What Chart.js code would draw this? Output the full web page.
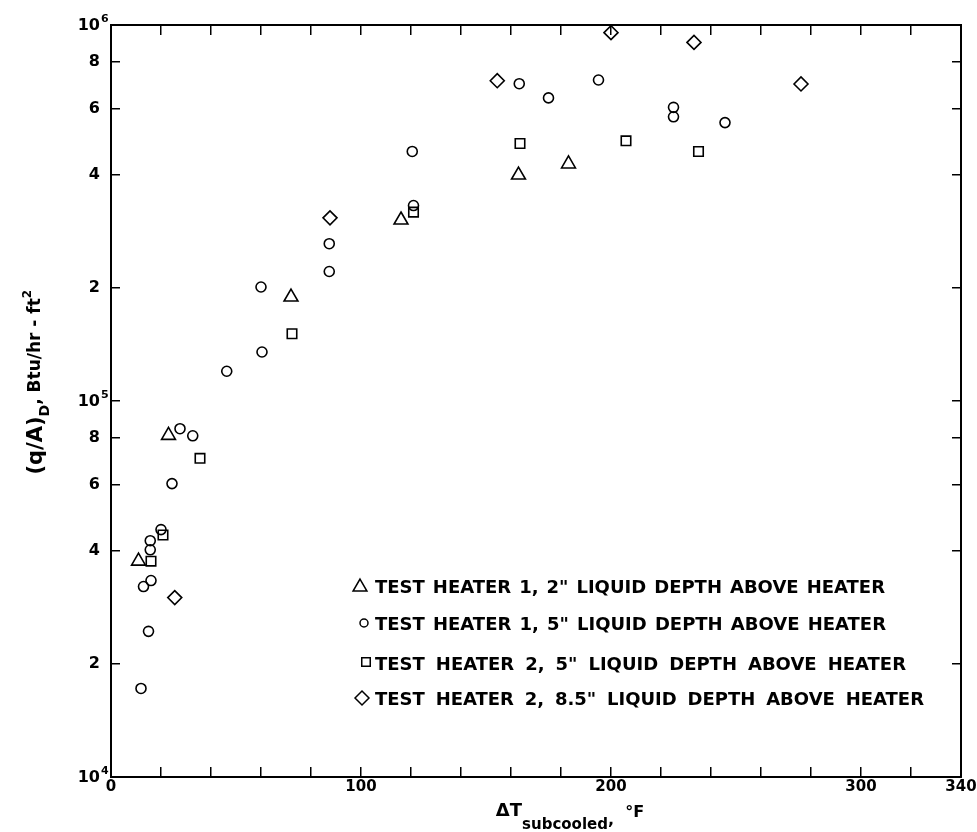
<!DOCTYPE html>
<html>
<head>
<meta charset="utf-8">
<title>Subcooled boiling heat flux</title>
<script src="https://cdn.jsdelivr.net/npm/chart.js@4.4.1/dist/chart.umd.min.js"></script>
<style>
  html, body { margin: 0; padding: 0; background: #fff; }
  #wrap { width: 977px; height: 832px; position: relative; }
</style>
</head>
<body>
<div id="wrap"><canvas id="myChart"></canvas></div>
<script>
// values: x = subcooling (F), y = heat flux (Btu/hr-ft2)
const tempHeater1Depth2 = [11, 23, 72, 116, 163, 183];
const fluxHeater1Depth2 = [37500, 81000, 189000, 303000, 399000, 427000];

const tempHeater1Depth5 = [12, 15, 13, 16, 15.7, 15.7, 20, 24.4, 27.6, 32.7, 46.3, 60, 60.4, 87.3, 87.3, 121, 120.5, 163.3, 175, 195, 225, 225, 245.6];
const fluxHeater1Depth5 = [17200, 24400, 32100, 33300, 40200, 42500, 45500, 60300, 84400, 80800, 120000, 201000, 135000, 221000, 262000, 331000, 461000, 698000, 640000, 714000, 604000, 570000, 550000];

const tempHeater2Depth5 = [16, 20.8, 35.6, 72.4, 121, 163.6, 206, 235];
const fluxHeater2Depth5 = [37500, 44000, 70400, 151000, 318000, 484000, 492000, 461000];

const tempHeater2Depth85 = [25.5, 87.6, 154.5, 200, 233.2, 276];
const fluxHeater2Depth85 = [30000, 307000, 711000, 954000, 899000, 697000];

const seriesLabels = [
    'TEST HEATER 1, 2" LIQUID DEPTH ABOVE HEATER',
    'TEST HEATER 1, 5" LIQUID DEPTH ABOVE HEATER',
    'TEST HEATER 2, 5" LIQUID DEPTH ABOVE HEATER',
    'TEST HEATER 2, 8.5" LIQUID DEPTH ABOVE HEATER'
];
const xTickLabels = [0, 100, 200, 300, 340];
const yTickValues = [1e4, 2e4, 4e4, 6e4, 8e4, 1e5, 2e5, 4e5, 6e5, 8e5, 1e6];

const FONT = '"DejaVu Sans", sans-serif';

function toPoints(xs, ys) {
    return xs.map((x, i) => ({ x: x, y: ys[i] }));
}

function isPowerOfTen(value) {
    const exp = Math.round(Math.log10(value));
    return Math.abs(value - Math.pow(10, exp)) < 1;
}

// powers of ten are drawn by the plugin (they need a real superscript)
function yTickLabel(value) {
    if (isPowerOfTen(value)) return "";
    return String(Math.round(value / Math.pow(10, Math.floor(Math.log10(value)))));
}

function setYTicks(scale) {
    scale.ticks = yTickValues.map(v => ({ value: v }));
}

function noEdgePadding(scale) {
    scale.paddingLeft = 0;
    scale.paddingRight = 0;
    scale.paddingTop = 0;
    scale.paddingBottom = 0;
}

function textWidth(ctx, runs) {
    let w = 0;
    runs.forEach(r => {
        ctx.font = `bold ${r.size}px ${FONT}`;
        w += ctx.measureText(r.text).width;
    });
    return w;
}

function drawRuns(ctx, runs, x, y) {
    let cx = x;
    runs.forEach(r => {
        ctx.font = `bold ${r.size}px ${FONT}`;
        ctx.fillText(r.text, cx, y + r.dy);
        cx += ctx.measureText(r.text).width;
    });
}

const xTitleRuns = [
    { text: "\u0394T", size: 18, dy: 0 },
    { text: "subcooled", size: 15, dy: 13 },
    { text: ",", size: 16, dy: 9 },
    { text: "  \u00B0F", size: 16, dy: 1 }
];
const yTitleRuns = [
    { text: "(q/A)", size: 21, dy: 0 },
    { text: "D", size: 14, dy: 7 },
    { text: ", Btu/hr - ft", size: 17, dy: -2 },
    { text: "2", size: 12, dy: -11 }
];

// legend rows: marker style and size, row position, right end of the text
const legendRows = [
    { style: "triangle", radius: 8, mx: 360, my: 587, base: 593, end: 885 },
    { style: "circle", radius: 4, mx: 364, my: 623, base: 630, end: 886 },
    { style: "rect", radius: 6, mx: 366, my: 662, base: 670, end: 906 },
    { style: "rectRot", radius: 7, mx: 362, my: 698, base: 705, end: 924 }
];

const decorPlugin = {
    id: "decor",
    afterDraw(chart) {
        const ctx = chart.ctx;
        const area = chart.chartArea;
        const yScale = chart.scales.y;
        ctx.save();
        ctx.fillStyle = "#000";
        ctx.textAlign = "left";

        // 10^n tick labels on the left axis
        ctx.textBaseline = "middle";
        yTickValues.filter(isPowerOfTen).forEach(v => {
            const py = yScale.getPixelForValue(v);
            ctx.font = `bold 16px ${FONT}`;
            const w = ctx.measureText("10").width;
            ctx.fillText("10", 100 - w, py + 1);
            ctx.font = `bold 11px ${FONT}`;
            ctx.fillText(String(Math.round(Math.log10(v))), 101, py - 6);
        });

        ctx.textBaseline = "alphabetic";
        // x axis title
        const xw = textWidth(ctx, xTitleRuns);
        drawRuns(ctx, xTitleRuns, area.left + 0.54 * (area.right - area.left) - xw / 2, 816);

        // y axis title, rotated
        const yw = textWidth(ctx, yTitleRuns);
        ctx.save();
        ctx.translate(42, area.top + 0.475 * (area.bottom - area.top));
        ctx.rotate(-Math.PI / 2);
        drawRuns(ctx, yTitleRuns, -yw / 2, 0);
        ctx.restore();

        // legend
        legendRows.forEach((row, i) => {
            ctx.strokeStyle = "#000";
            ctx.fillStyle = "#fff";
            ctx.lineWidth = 1.5;
            Chart.helpers.drawPoint(ctx, { pointStyle: row.style, radius: row.radius, rotation: 0, borderWidth: 1.5 }, row.mx, row.my);
            ctx.fillStyle = "#000";
            ctx.font = `bold 18px ${FONT}`;
            const label = seriesLabels[i];
            const natural = ctx.measureText(label).width;
            const gaps = label.split(" ").length - 1;
            const start = 375;
            ctx.wordSpacing = Math.max(0, (row.end - start - natural) / gaps) + "px";
            ctx.fillText(label, start, row.base);
            ctx.wordSpacing = "0px";
        });
        ctx.restore();
    }
};

function dataset(label, xs, ys, style, radius) {
    return {
        label: label,
        data: toPoints(xs, ys),
        pointStyle: style,
        pointRadius: radius,
        pointHoverRadius: radius,
        pointBorderWidth: 1.6,
        borderColor: "#000",
        backgroundColor: "rgba(255,255,255,0)",
        showLine: false
    };
}

const axisGrid = { drawOnChartArea: false, color: "#000", lineWidth: 1.5, tickLength: -10 };
const axisBorder = { display: true, color: "#000", width: 2 };

new Chart("myChart", {
    type: "scatter",
    data: {
        datasets: [
            dataset(seriesLabels[0], tempHeater1Depth2, fluxHeater1Depth2, "triangle", 8),
            dataset(seriesLabels[1], tempHeater1Depth5, fluxHeater1Depth5, "circle", 5),
            dataset(seriesLabels[2], tempHeater2Depth5, fluxHeater2Depth5, "rect", 6.7),
            dataset(seriesLabels[3], tempHeater2Depth85, fluxHeater2Depth85, "rectRot", 7)
        ]
    },
    options: {
        responsive: true,
        maintainAspectRatio: false,
        animation: false,
        layout: { padding: 0 },
        plugins: {
            legend: { display: false },
            tooltip: { enabled: false }
        },
        scales: {
            x: {
                type: "linear",
                position: "bottom",
                min: 0,
                max: 340,
                grid: axisGrid,
                border: axisBorder,
                ticks: {
                    stepSize: 20,
                    autoSkip: false,
                    maxRotation: 0,
                    padding: 11,
                    color: "#000",
                    font: { family: FONT, size: 15, weight: "bold" },
                    callback: v => xTickLabels.includes(v) ? String(v) : ""
                },
                afterFit: s => { s.height = 55; noEdgePadding(s); }
            },
            x2: {
                type: "linear",
                position: "top",
                min: 0,
                max: 340,
                grid: axisGrid,
                border: axisBorder,
                ticks: { stepSize: 20, autoSkip: false, display: false },
                afterFit: s => { s.height = 25; noEdgePadding(s); }
            },
            y: {
                type: "logarithmic",
                position: "left",
                min: 1e4,
                max: 1e6,
                grid: Object.assign({}, axisGrid, { tickLength: -9 }),
                border: axisBorder,
                afterBuildTicks: setYTicks,
                ticks: {
                    autoSkip: false,
                    padding: 20,
                    color: "#000",
                    font: { family: FONT, size: 16, weight: "bold" },
                    callback: v => yTickLabel(v)
                },
                afterFit: s => { s.width = 111; noEdgePadding(s); }
            },
            y2: {
                type: "logarithmic",
                position: "right",
                min: 1e4,
                max: 1e6,
                grid: Object.assign({}, axisGrid, { tickLength: -9 }),
                border: axisBorder,
                afterBuildTicks: setYTicks,
                ticks: { display: false },
                afterFit: s => { s.width = 16; noEdgePadding(s); }
            }
        }
    },
    plugins: [decorPlugin]
});
</script>
</body>
</html>
